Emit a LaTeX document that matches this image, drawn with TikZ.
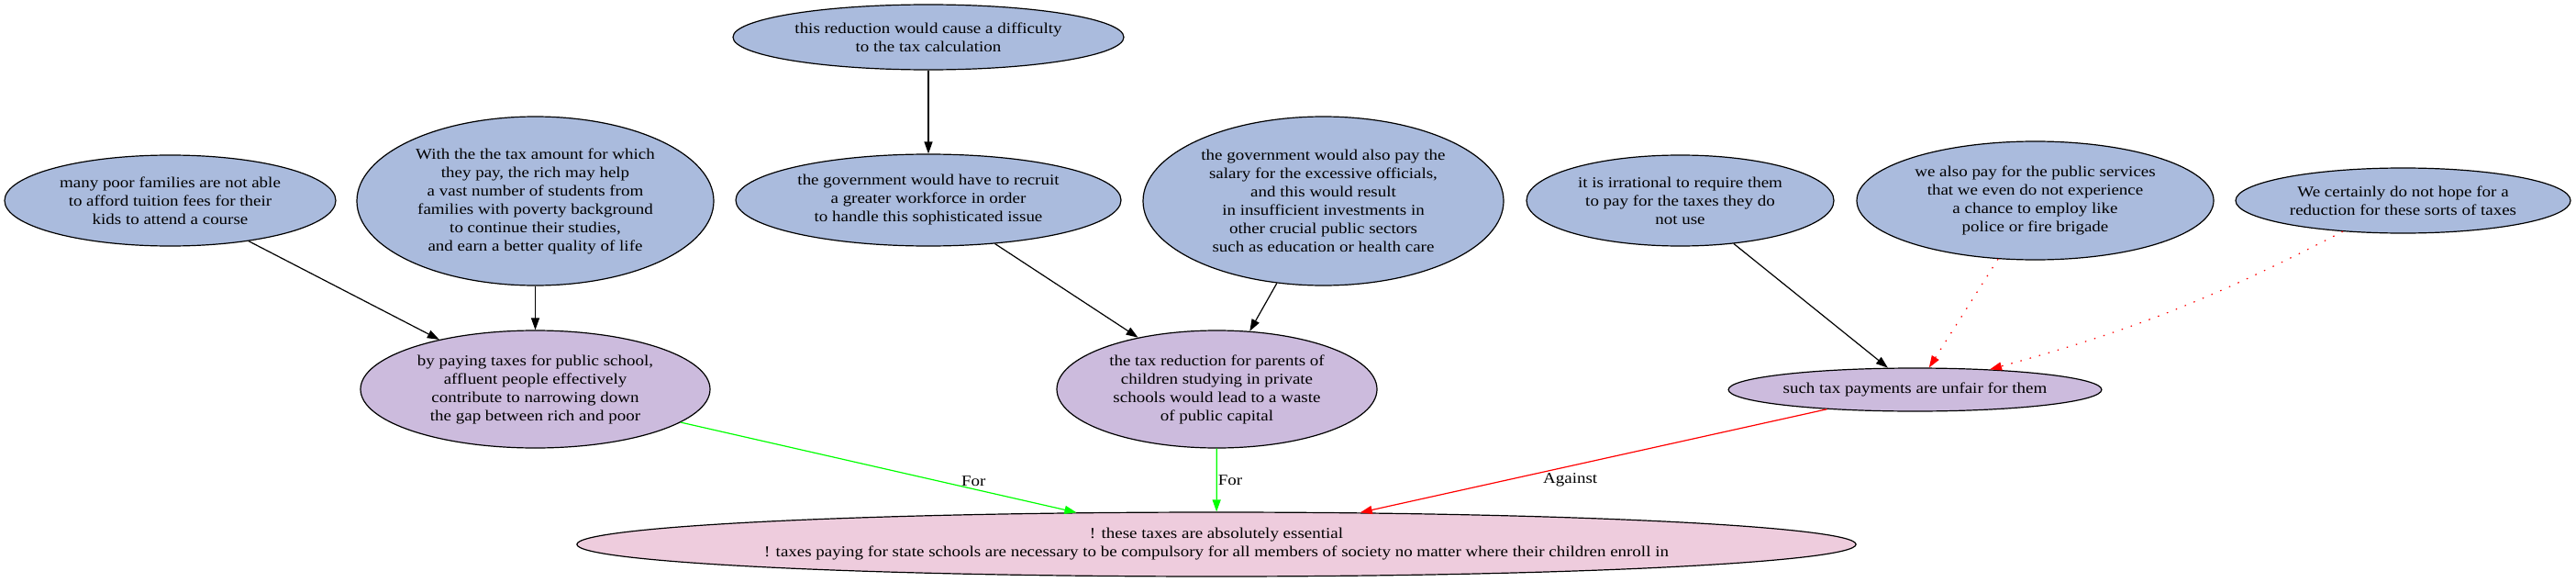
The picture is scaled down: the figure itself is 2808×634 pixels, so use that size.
\documentclass[tikz,border=0pt]{standalone}
\usepackage{fontspec}
\setmainfont{Liberation Serif}[FakeStretch=1.15]
\usetikzlibrary{shapes.geometric,arrows.meta}
\definecolor{premise}{HTML}{AABBDD}
\definecolor{claim}{HTML}{CCBBDD}
\definecolor{thesis}{HTML}{EECCDD}

\begin{document}
\begin{tikzpicture}[x=1pt, y=-1pt, line width=1.2pt, >={Triangle[length=13pt, width=9pt]},
    arg/.style={ellipse, draw, inner sep=0pt, align=center, font=\fontsize{16.5}{20}\selectfont},
    lbl/.style={font=\fontsize{16.5}{20}\selectfont, text=black, inner sep=1pt},
    weak/.style={red, dash pattern=on 1.5pt off 9pt}]
    \useasboundingbox (0,0) rectangle (2808,634);

    \node[arg, fill=premise, minimum width=361pt, minimum height=99pt] (A) at (185.5,218.5)
        {many poor families are not able\\to afford tuition fees for their\\kids to attend a course};
    \node[arg, fill=premise, minimum width=389pt, minimum height=184pt] (B) at (583.5,219)
        {With the the tax amount for which\\they pay, the rich may help\\a vast number of students from\\families with poverty background\\to continue their studies,\\and earn a better quality of life};
    \node[arg, fill=claim, minimum width=381pt, minimum height=128pt] (C) at (583.5,424)
        {by paying taxes for public school,\\affluent people effectively\\contribute to narrowing down\\the gap between rich and poor};

    \node[arg, fill=premise, minimum width=426pt, minimum height=71pt] (D) at (1012,40.5)
        {this reduction would cause a difficulty\\to the tax calculation};
    \node[arg, fill=premise, minimum width=420pt, minimum height=100pt] (E) at (1012,218)
        {the government would have to recruit\\a greater workforce in order\\to handle this sophisticated issue};
    \node[arg, fill=premise, minimum width=393pt, minimum height=184pt] (F) at (1442.5,219)
        {the government would also pay the\\salary for the excessive officials,\\and this would result\\in insufficient investments in\\other crucial public sectors\\such as education or health care};
    \node[arg, fill=claim, minimum width=349pt, minimum height=128pt] (G) at (1326.5,424)
        {the tax reduction for parents of\\children studying in private\\schools would lead to a waste\\of public capital};

    \node[arg, fill=premise, minimum width=335pt, minimum height=99pt] (H) at (1831.5,218.5)
        {it is irrational to require them\\to pay for the taxes they do\\not use};
    \node[arg, fill=premise, minimum width=389pt, minimum height=129pt] (I) at (2218.5,218.5)
        {we also pay for the public services\\that we even do not experience\\a chance to employ like\\police or fire brigade};
    \node[arg, fill=premise, minimum width=365pt, minimum height=71pt] (J) at (2619.5,218.5)
        {We certainly do not hope for a\\reduction for these sorts of taxes};
    \node[arg, fill=claim, minimum width=391pt, minimum height=47pt] (K) at (2087.5,424.5)
        {such tax payments are unfair for them};

    \node[arg, fill=thesis, minimum width=1380pt, minimum height=70pt] (L) at (1326,593)
        {! these taxes are absolutely essential\\! taxes paying for state schools are necessary to be compulsory for all members of society no matter where their children enroll in};

    \draw[->] (A) -- (C);
    \draw[->] (B) -- (C);
    \draw[->] (D) -- (E);
    \draw[->] (E) -- (G);
    \draw[->] (F) -- (G);
    \draw[->] (H) -- (K);
    \draw[->, weak] (I) -- (K);
    \draw[->, weak] (J) to[bend left=6] (K);

    \draw[->, green] (C) -- (L) node[lbl, pos=0.74, yshift=9pt] {For};
    \draw[->, green] (G) -- (L) node[lbl, midway, right] {For};
    \draw[->, red] (K) -- (L) node[lbl, pos=0.55, yshift=-15.5pt] {Against};
\end{tikzpicture}
\end{document}
